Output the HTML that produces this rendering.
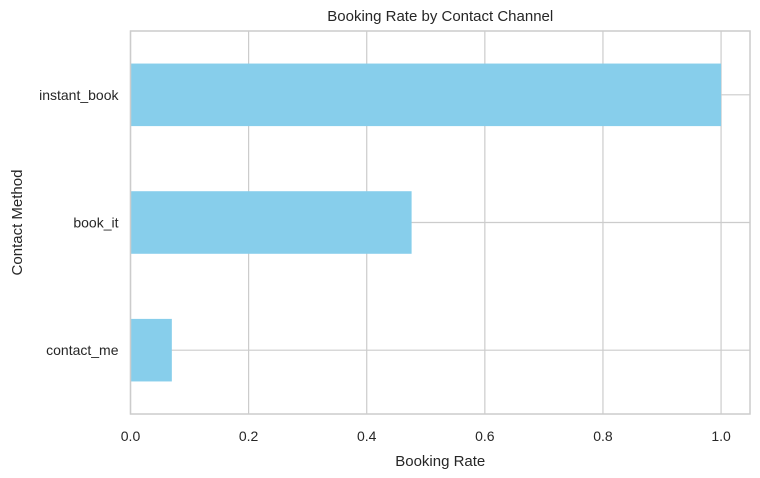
<!DOCTYPE html>
<html><head><meta charset="utf-8"><style>
body{margin:0;background:#fff;font-family:"Liberation Sans","DejaVu Sans",sans-serif}
text{font-family:"Liberation Sans","DejaVu Sans",sans-serif;fill:#262626}
</style></head><body>
<svg id="chart" width="760" height="473" xmlns="http://www.w3.org/2000/svg"></svg>
<script>
const categories = ["instant_book", "book_it", "contact_me"];
const values = [1.0, 0.476, 0.07];
const xTicks = [0.0, 0.2, 0.4, 0.6, 0.8, 1.0];
const xTickLabels = ["0.0", "0.2", "0.4", "0.6", "0.8", "1.0"];

const svg = document.getElementById('chart');
const NS = 'http://www.w3.org/2000/svg';
const L = 130.5, R = 750, T = 31, B = 414;
const xMax = 1.049;
const xs = v => L + v / xMax * (R - L);
const band = (B - T) / categories.length;
const yc = i => T + band * (i + 0.5);
function mk(tag, attrs, name) {
  const e = document.createElementNS(NS, tag);
  for (const k in attrs) e.setAttribute(k, attrs[k]);
  
  
  svg.appendChild(e);
  return e;
}
xTicks.forEach((t, i) => {
  mk('line', {x1: xs(t), x2: xs(t), y1: T, y2: B, stroke: '#cccccc', 'stroke-width': 1.2}, 'x-gridline');
  const lb = mk('text', {x: xs(t), y: B + 27, 'text-anchor': 'middle', 'font-size': 14}, 'x-tick-label');
  lb.textContent = xTickLabels[i];
});
categories.forEach((c, i) => {
  mk('line', {x1: L, x2: R, y1: yc(i), y2: yc(i), stroke: '#cccccc', 'stroke-width': 1.2}, 'y-gridline');
  const lb = mk('text', {x: L - 12, y: yc(i) + 5, 'text-anchor': 'end', 'font-size': 14}, 'y-tick-label');
  lb.textContent = c;
});
categories.forEach((c, i) => {
  const h = band * 0.49;
  mk('rect', {x: xs(0), y: yc(i) - h / 2, width: xs(values[i]) - xs(0), height: h, fill: '#87ceeb'}, 'bar-' + c.replace(/_/g, '-'));
});
mk('rect', {x: L, y: T, width: R - L, height: B - T, fill: 'none', stroke: '#cccccc', 'stroke-width': 1.5}, 'plot-frame');
const title = mk('text', {x: (L + R) / 2, y: 21, 'text-anchor': 'middle', 'font-size': 15}, 'chart-title');
title.textContent = 'Booking Rate by Contact Channel';
const xt = mk('text', {x: (L + R) / 2, y: 466, 'text-anchor': 'middle', 'font-size': 15}, 'x-axis-title');
xt.textContent = 'Booking Rate';
const yt = mk('text', {x: 22, y: (T + B) / 2, 'text-anchor': 'middle', 'font-size': 15, transform: `rotate(-90 22 ${(T + B) / 2})`}, 'y-axis-title');
yt.textContent = 'Contact Method';
</script>
</body></html>
